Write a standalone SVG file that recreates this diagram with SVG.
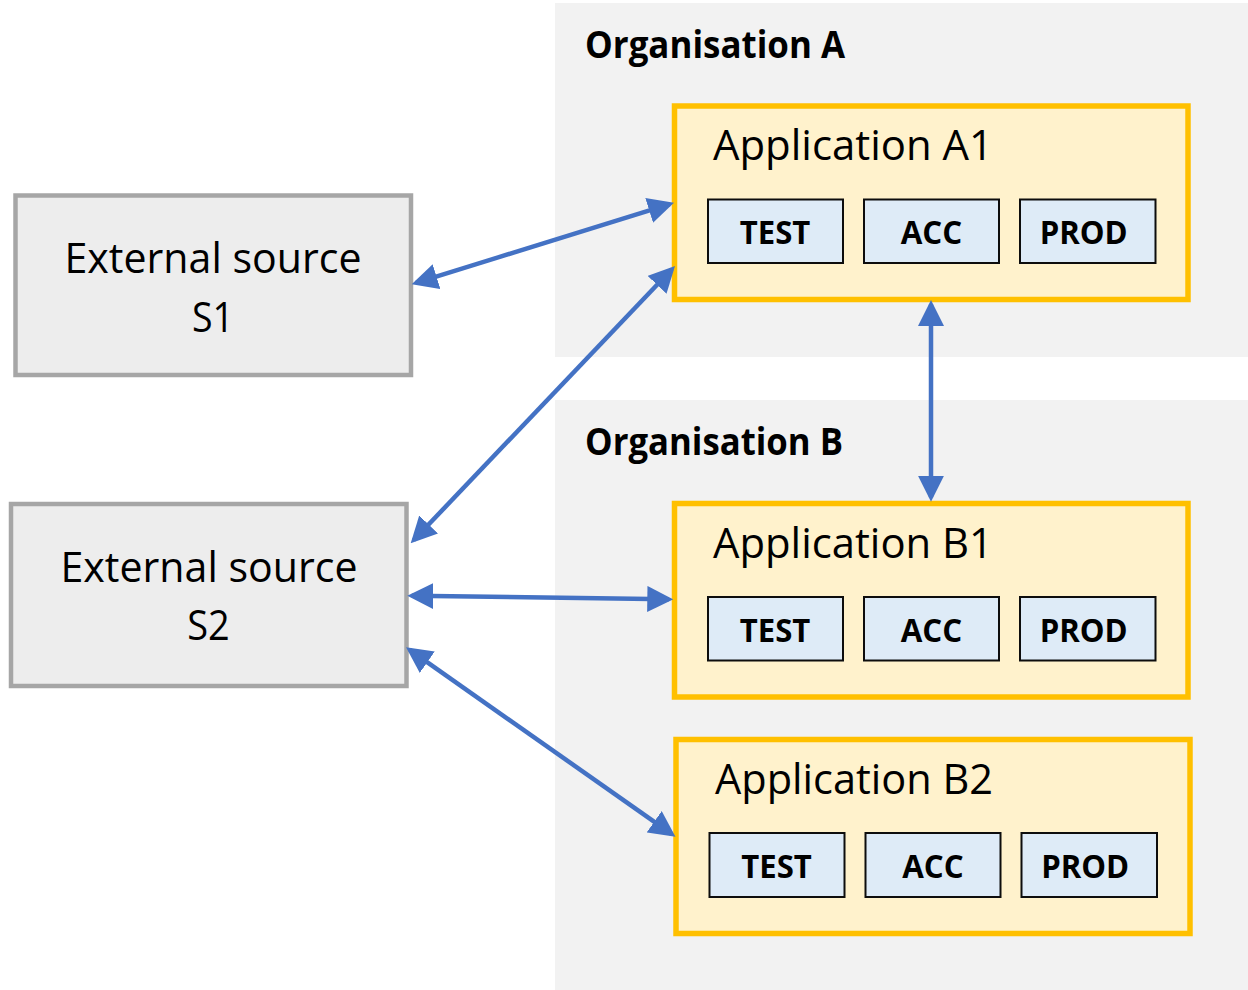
<svg xmlns="http://www.w3.org/2000/svg" width="1248" height="990" viewBox="0 0 1248 990">
  <defs>
    <style>
      .org { fill: #f2f2f2; }
      .org-label { font-family: "Open Sans", "Liberation Sans", sans-serif; font-weight: 700; font-size: 37.5px; fill: #000; }
      .src { fill: #ededed; stroke: #a6a6a6; stroke-width: 4.5; }
      .src-label { font-family: "Open Sans", "Liberation Sans", sans-serif; font-size: 42.5px; fill: #000; text-anchor: middle; }
      .app { fill: #fff2cc; stroke: #ffc000; stroke-width: 5.5; }
      .app-label { font-family: "Open Sans", "Liberation Sans", sans-serif; font-size: 42.5px; fill: #000; }
      .env { fill: #deebf7; stroke: #0d0d0d; stroke-width: 2; }
      .env-label { font-family: "Open Sans", "Liberation Sans", sans-serif; font-weight: 700; font-size: 33px; fill: #000; text-anchor: middle; }
      .link { fill: none; stroke: #4472c4; stroke-width: 4.5; stroke-linecap: butt; marker-start: url(#head); marker-end: url(#head); }
    </style>
    <marker id="head" markerUnits="userSpaceOnUse" viewBox="0 0 26 26" markerWidth="26" markerHeight="26" refX="21.5" refY="13" orient="auto-start-reverse">
      <path d="M0,0 L26,13 L0,26 z" fill="#4472c4"/>
    </marker>
  </defs>

  <rect width="1248" height="990" fill="#ffffff"/>

  <!-- Organisation A -->
  <g id="org-a">
    <rect class="org" x="555" y="3" width="693" height="354"/>
    <text class="org-label" x="585" y="57.5" textLength="260" lengthAdjust="spacingAndGlyphs">Organisation A</text>
  </g>

  <!-- Organisation B -->
  <g id="org-b">
    <rect class="org" x="555" y="400" width="693" height="590"/>
    <text class="org-label" x="585" y="454.5" textLength="258" lengthAdjust="spacingAndGlyphs">Organisation B</text>
  </g>

  <!-- External sources -->
  <g id="source-s1">
    <rect class="src" x="15.5" y="195.5" width="395.5" height="179.5"/>
    <text class="src-label" x="213" y="272.5" textLength="297" lengthAdjust="spacingAndGlyphs">External source</text>
    <text class="src-label" x="213" y="331.5" textLength="42" lengthAdjust="spacingAndGlyphs">S1</text>
  </g>

  <g id="source-s2">
    <rect class="src" x="11" y="504" width="395.5" height="182"/>
    <text class="src-label" x="209" y="582.3" textLength="297" lengthAdjust="spacingAndGlyphs">External source</text>
    <text class="src-label" x="208.5" y="640" textLength="42.5" lengthAdjust="spacingAndGlyphs">S2</text>
  </g>

  <!-- Application A1 -->
  <g id="app-a1">
    <rect class="app" x="674.5" y="106" width="513.5" height="193.5"/>
    <text class="app-label" x="713" y="160" textLength="280" lengthAdjust="spacingAndGlyphs">Application A1</text>
    <g id="app-a1-test">
      <rect class="env" x="708" y="199.5" width="135" height="63.5"/>
      <text class="env-label" x="775" y="244" textLength="70.5" lengthAdjust="spacingAndGlyphs">TEST</text>
    </g>
    <g id="app-a1-acc">
      <rect class="env" x="864" y="199.5" width="135" height="63.5"/>
      <text class="env-label" x="931.5" y="244" textLength="61.5" lengthAdjust="spacingAndGlyphs">ACC</text>
    </g>
    <g id="app-a1-prod">
      <rect class="env" x="1020" y="199.5" width="135.5" height="63.5"/>
      <text class="env-label" x="1083.7" y="244" textLength="88" lengthAdjust="spacingAndGlyphs">PROD</text>
    </g>
  </g>

  <!-- Application B1 -->
  <g id="app-b1">
    <rect class="app" x="674.5" y="503.5" width="513.5" height="193.5"/>
    <text class="app-label" x="713" y="557.5" textLength="280" lengthAdjust="spacingAndGlyphs">Application B1</text>
    <g id="app-b1-test">
      <rect class="env" x="708" y="597" width="135" height="63.5"/>
      <text class="env-label" x="775" y="641.5" textLength="70.5" lengthAdjust="spacingAndGlyphs">TEST</text>
    </g>
    <g id="app-b1-acc">
      <rect class="env" x="864" y="597" width="135" height="63.5"/>
      <text class="env-label" x="931.5" y="641.5" textLength="61.5" lengthAdjust="spacingAndGlyphs">ACC</text>
    </g>
    <g id="app-b1-prod">
      <rect class="env" x="1020" y="597" width="135.5" height="63.5"/>
      <text class="env-label" x="1083.7" y="641.5" textLength="88" lengthAdjust="spacingAndGlyphs">PROD</text>
    </g>
  </g>

  <!-- Application B2 -->
  <g id="app-b2">
    <rect class="app" x="676" y="739.5" width="514" height="194"/>
    <text class="app-label" x="715" y="794" textLength="278" lengthAdjust="spacingAndGlyphs">Application B2</text>
    <g id="app-b2-test">
      <rect class="env" x="709.5" y="833" width="135" height="64"/>
      <text class="env-label" x="776.5" y="877.5" textLength="70.5" lengthAdjust="spacingAndGlyphs">TEST</text>
    </g>
    <g id="app-b2-acc">
      <rect class="env" x="865.5" y="833" width="135" height="64"/>
      <text class="env-label" x="933" y="877.5" textLength="61.5" lengthAdjust="spacingAndGlyphs">ACC</text>
    </g>
    <g id="app-b2-prod">
      <rect class="env" x="1021.5" y="833" width="135.5" height="64"/>
      <text class="env-label" x="1085.2" y="877.5" textLength="88" lengthAdjust="spacingAndGlyphs">PROD</text>
    </g>
  </g>

  <!-- Connectors (double-headed) -->
  <g id="connectors">
    <line class="link" x1="416.0" y1="282.96" x2="669.7" y2="204.04"/>
    <line class="link" x1="413.8" y1="540.04" x2="671.9" y2="269.26"/>
    <line class="link" x1="411.8" y1="595.76" x2="668.8" y2="599.24"/>
    <line class="link" x1="409.7" y1="649.89" x2="671.8" y2="834.11"/>
    <line class="link" x1="931" y1="304.5" x2="931" y2="497.2"/>
  </g>
</svg>
